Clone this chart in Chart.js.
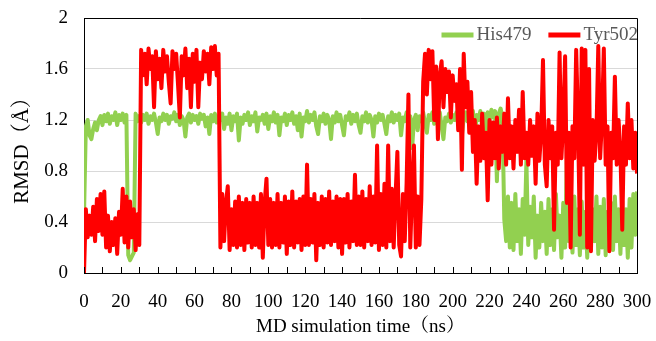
<!DOCTYPE html>
<html>
<head>
<meta charset="utf-8">
<script src="https://cdn.jsdelivr.net/npm/chart.js@4"></script>
<style>
  html, body { margin: 0; padding: 0; background: #fff; }
  #wrap { width: 656px; height: 341px; }
</style>
</head>
<body>
<div id="wrap"><canvas id="myChart"></canvas></div>
<script>
// time axis: one frame per ns, 0..300 ns
const timeStart = 0;
const timeStep = 1;
const xTicks = [0, 20, 40, 60, 80, 100, 120, 140, 160, 180, 200, 220, 240, 260, 280, 300];
const yTicks = [0, 0.4, 0.8, 1.2, 1.6, 2];

const seriesNames = ["His479", "Tyr502"];

// RMSD of His479 (Å)
const his479 = [
  0.45,
  1.15, 1.2, 1.08, 1.05, 1.13, 1.18, 1.12, 1.2, 1.23, 1.16,
  1.24, 1.19, 1.25, 1.17, 1.23, 1.2, 1.26, 1.16, 1.24, 1.2,
  1.25, 1.18, 1.24, 0.14, 0.1, 0.13, 0.16, 1.25, 1.19, 1.23,
  1.18, 1.24, 1.2, 1.25, 1.17, 1.23, 1.2, 1.25, 1.18, 1.09,
  1.22, 1.19, 1.25, 1.2, 1.24, 1.17, 1.23, 1.21, 1.26, 1.19,
  1.24, 1.16, 1.23, 1.2, 1.07, 1.22, 1.25, 1.18, 1.24, 1.2,
  1.23, 1.17, 1.25, 1.21, 1.24, 1.15, 1.22, 1.09, 1.24, 1.19,
  1.25, 1.18, 1.23, 1.2, 1.25, 1.13, 1.22, 1.17, 1.25, 1.12,
  1.23, 1.19, 1.25, 1.04, 1.22, 1.17, 1.24, 1.2, 1.26, 1.16,
  1.23, 1.19, 1.26, 1.11, 1.22, 1.2, 1.24, 1.17, 1.25, 1.13,
  1.23, 1.19, 1.26, 1.18, 1.24, 1.08, 1.22, 1.19, 1.25, 1.16,
  1.24, 1.2, 1.26, 1.17, 1.23, 1.12, 1.25, 1.07, 1.22, 1.19,
  1.27, 1.18, 1.24, 1.2, 1.26, 1.15, 1.09, 1.23, 1.19, 1.25,
  1.17, 1.24, 1.2, 1.05, 1.23, 1.18, 1.26, 1.19, 1.24, 1.16,
  1.08, 1.23, 1.2, 1.26, 1.17, 1.24, 1.19, 1.25, 1.16, 1.1,
  1.23, 1.19, 1.26, 1.18, 1.24, 1.2, 1.07, 1.23, 1.18, 1.25,
  1.2, 1.24, 1.17, 1.09, 1.23, 1.19, 1.26, 1.18, 1.24, 1.2,
  1.25, 1.08, 1.22, 1.19, 1.26, 1.17, 1.23, 0.98, 1.2, 1.24,
  1.12, 1.23, 1.19, 1.26, 1.18, 1.1, 1.24, 1.2, 1.26, 1.17,
  1.24, 1.19, 1.26, 1.15, 1.05, 1.22, 1.19, 1.25, 1.18, 1.24,
  1.2, 1.26, 1.17, 1.23, 1.08, 1.22, 1.26, 1.19, 1.24, 1.2,
  1.27, 1.0, 1.24, 1.2, 1.27, 1.18, 1.25, 1.05, 1.26, 1.2,
  1.28, 1.22, 1.27, 0.72, 1.25, 1.29, 1.22, 0.42, 0.25, 0.6,
  0.2, 0.55, 0.18, 0.62, 0.25, 0.5, 0.15, 0.58, 0.3, 0.88,
  0.22, 0.52, 0.28, 0.6, 0.12, 0.45, 0.2, 0.55, 0.25, 0.48,
  0.15, 0.58, 0.22, 0.5, 0.18, 0.62, 0.28, 0.45, 0.12, 0.55,
  0.2, 0.95, 0.25, 0.52, 0.16, 0.6, 0.22, 0.5, 0.14, 0.56,
  0.2, 0.48, 0.12, 0.55, 0.18, 0.5, 0.25, 0.6, 0.15, 0.52,
  0.2, 0.58, 0.14, 0.48, 0.22, 0.55, 0.18, 0.6, 0.25, 0.5,
  0.15, 0.56, 0.22, 0.5, 0.12, 0.58, 0.2, 0.62, 0.3, 0.64
];

// RMSD of Tyr502 (Å)
const tyr502 = [
  0.0,
  0.5, 0.28, 0.45, 0.3, 0.52, 0.25, 0.58, 0.33, 0.62, 0.3,
  0.64, 0.2, 0.45, 0.17, 0.4, 0.22, 0.43, 0.15, 0.48, 0.3,
  0.66, 0.24, 0.6, 0.2, 0.56, 0.28, 0.5, 0.18, 0.46, 0.22,
  1.75, 1.55, 1.72, 1.48, 1.76, 1.6, 1.7, 1.3, 1.74, 1.52,
  1.68, 1.45, 1.75, 1.58, 1.7, 1.5, 1.33, 1.74, 1.6, 1.72,
  1.48, 1.22, 1.7, 1.55, 1.76, 1.45, 1.68, 1.3, 1.72, 1.5,
  1.75, 1.3, 1.65, 1.52, 1.74, 1.58, 1.72, 1.48, 1.77, 1.6,
  1.78, 1.55, 1.72, 0.2, 0.62, 0.25, 0.55, 0.68, 0.18, 0.5,
  0.22, 0.56, 0.2, 0.6, 0.22, 0.55, 0.18, 0.58, 0.24, 0.55,
  0.2, 0.6, 0.22, 0.55, 0.2, 0.62, 0.12, 0.55, 0.74, 0.22,
  0.58, 0.2, 0.55, 0.22, 0.62, 0.2, 0.55, 0.24, 0.6, 0.15,
  0.56, 0.22, 0.64, 0.2, 0.56, 0.24, 0.58, 0.18, 0.6, 0.22,
  0.85, 0.22, 0.58, 0.24, 0.62, 0.1, 0.55, 0.22, 0.6, 0.2,
  0.58, 0.24, 0.64, 0.22, 0.56, 0.25, 0.6, 0.2, 0.58, 0.15,
  0.58, 0.24, 0.62, 0.2, 0.56, 0.25, 0.77, 0.22, 0.6, 0.22,
  0.64, 0.2, 0.58, 0.25, 0.68, 0.22, 0.6, 0.24, 1.0, 0.18,
  0.62, 0.22, 0.7, 0.2, 1.0, 0.25, 0.66, 0.2, 0.6, 0.95,
  0.22, 0.13, 0.62, 0.25, 0.7, 1.4, 0.2, 0.66, 1.0, 0.2,
  0.6, 0.22, 0.58, 1.5, 1.72, 1.4, 1.75, 1.52, 1.74, 1.2,
  1.62, 1.05, 1.55, 1.66, 1.3, 1.6, 1.42, 1.58, 1.22, 1.55,
  1.35, 1.48, 1.12, 1.6, 0.81, 1.72, 1.3, 1.5, 1.1, 1.42,
  0.95, 1.2, 0.7, 1.15, 0.88, 1.25, 0.9, 1.1, 0.57, 1.2,
  0.85, 1.18, 0.9, 1.22, 0.82, 1.15, 0.95, 1.25, 0.85, 1.37,
  0.9, 1.15, 0.82, 1.2, 0.95, 1.28, 0.85, 1.42, 0.9, 1.1,
  0.85, 1.2, 0.92, 1.15, 0.7, 1.25, 0.88, 1.1, 1.67, 0.85,
  0.68, 1.2, 0.9, 1.15, 0.34, 1.1, 0.85, 1.73, 0.9, 1.2,
  1.7, 0.55, 1.1, 0.2, 1.15, 0.9, 1.75, 1.2, 0.3, 1.76,
  0.85, 1.75, 0.2, 1.6, 0.17, 1.2, 0.88, 1.1, 1.78, 0.9,
  1.2, 1.76, 0.85, 1.15, 0.17, 1.1, 0.9, 1.54, 0.85, 1.2,
  0.95, 0.34, 1.15, 0.85, 1.33, 0.9, 1.2, 0.82, 1.1, 0.78
];

const toPoints = (values) =>
  values.map((v, i) => ({ x: timeStart + i * timeStep, y: v }));

const serif = "'Liberation Serif', 'Times New Roman', 'Noto Serif CJK SC', serif";

// inward minor ticks on the time axis, closed frame, legend inside the plot
const frameAndLegend = {
  id: "frameAndLegend",
  afterDraw(chart) {
    const { ctx, chartArea } = chart;
    const xScale = chart.scales.x;
    ctx.save();
    ctx.strokeStyle = "#000";
    ctx.lineWidth = 1;
    ctx.beginPath();
    ctx.moveTo(chartArea.left, chartArea.top + 0.5);
    ctx.lineTo(chartArea.right + 0.5, chartArea.top + 0.5);
    ctx.lineTo(chartArea.right + 0.5, chartArea.bottom);
    for (let t = 0; t <= 300; t += 10) {
      const px = Math.round(xScale.getPixelForValue(t)) + 0.5;
      ctx.moveTo(px, chartArea.bottom);
      ctx.lineTo(px, chartArea.bottom - 6);
    }
    ctx.stroke();

    // legend, right-aligned at top of plot
    ctx.font = "19px " + serif;
    ctx.textBaseline = "middle";
    const yMid = chartArea.top + 17;
    let x = chartArea.right + 1;
    const sets = chart.data.datasets.slice().reverse();
    sets.forEach((ds) => {
      const w = ctx.measureText(ds.label).width;
      x -= w;
      ctx.fillStyle = "#595959";
      ctx.fillText(ds.label, x, yMid);
      x -= 3;
      ctx.fillStyle = ds.borderColor;
      ctx.fillRect(x - 32, yMid - 2.5, 32, 5);
      x -= 32 + 17;
    });
    ctx.restore();
  },
};

const ctx = document.getElementById("myChart").getContext("2d");
new Chart(ctx, {
  type: "line",
  data: {
    datasets: [
      {
        label: seriesNames[0],
        data: toPoints(his479),
        borderColor: "#92D050",
        backgroundColor: "#92D050",
        borderWidth: 4,
        order: 1,
      },
      {
        label: seriesNames[1],
        data: toPoints(tyr502),
        borderColor: "#FF0000",
        backgroundColor: "#FF0000",
        borderWidth: 4,
        order: 0,
      },
    ],
  },
  options: {
    responsive: true,
    maintainAspectRatio: false,
    animation: false,
    layout: { padding: { top: 18, right: 19, left: 0, bottom: 0 } },
    elements: {
      point: { radius: 0 },
      line: { tension: 0, borderJoinStyle: "round" },
    },
    plugins: {
      tooltip: { enabled: false },
      legend: { display: false },
    },
    scales: {
      x: {
        type: "linear",
        min: 0,
        max: 300,
        afterBuildTicks: (scale) => {
          scale.ticks = xTicks.map((v) => ({ value: v }));
        },
        afterFit: (scale) => {
          scale.height = 68;
          scale.paddingLeft = 0;
          scale.paddingRight = 0;
        },
        grid: { display: false },
        border: { display: true, color: "#000", width: 1 },
        ticks: {
          color: "#000",
          padding: 10,
          maxRotation: 0,
          autoSkip: false,
          font: { family: serif, size: 19 },
        },
        title: {
          display: true,
          text: "MD simulation time（ns）",
          color: "#000",
          padding: { top: 0, bottom: 3 },
          font: { family: serif, size: 19 },
        },
      },
      y: {
        min: 0,
        max: 2,
        afterBuildTicks: (scale) => {
          scale.ticks = yTicks.map((v) => ({ value: v }));
        },
        afterFit: (scale) => {
          scale.width = 84;
          scale.paddingTop = 0;
          scale.paddingBottom = 0;
        },
        grid: { color: "#d9d9d9", drawTicks: false },
        border: { display: true, color: "#000", width: 1 },
        ticks: {
          color: "#000",
          padding: 16,
          font: { family: serif, size: 19 },
          callback: (v) => String(Math.round(v * 10) / 10),
        },
        title: {
          display: true,
          text: "RMSD（Å）",
          color: "#000",
          padding: { top: 10, bottom: 0 },
          font: { family: serif, size: 21 },
        },
      },
    },
  },
  plugins: [frameAndLegend],
});
</script>
</body>
</html>
